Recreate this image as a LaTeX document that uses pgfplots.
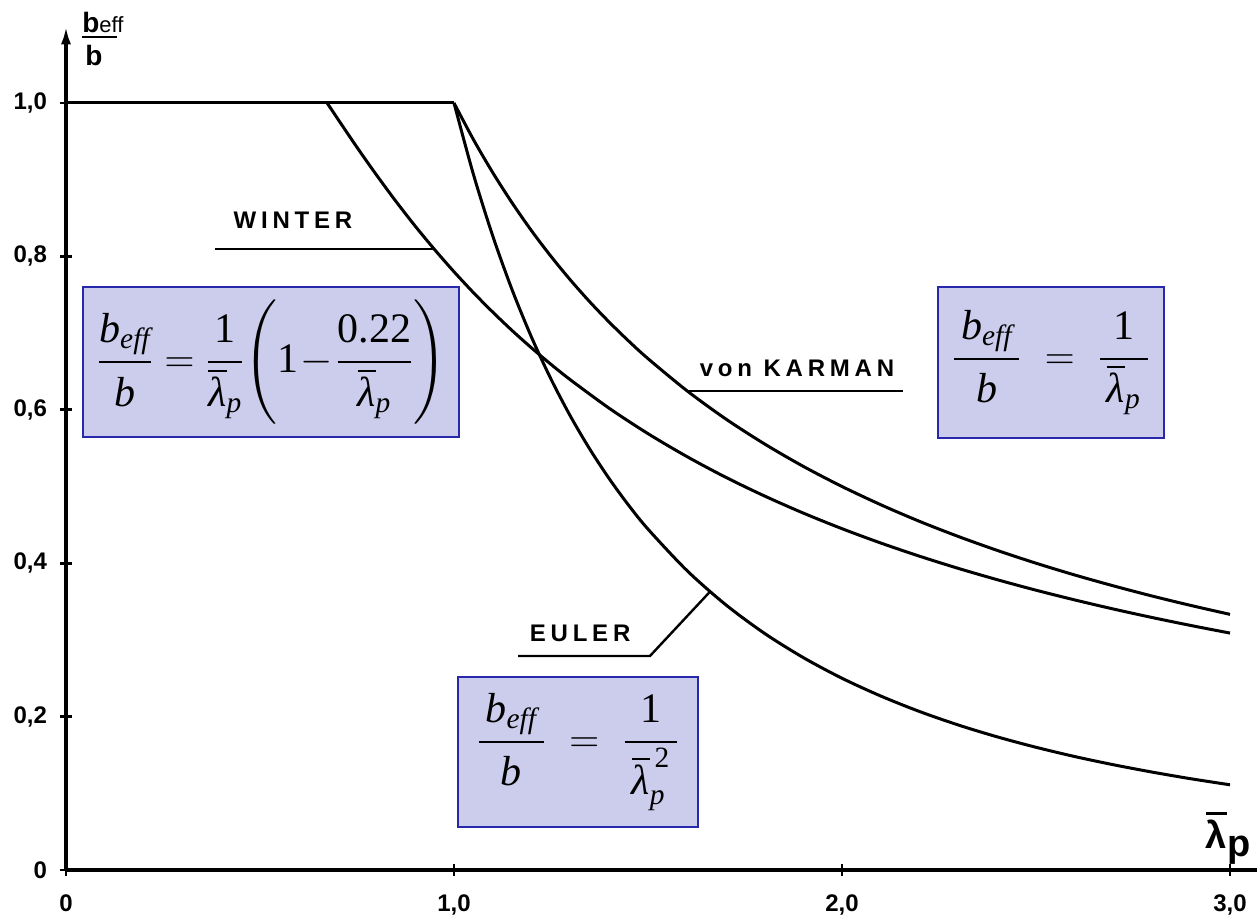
\documentclass[border=0pt]{standalone}
\usepackage{amsmath}
\usepackage{fontspec}
\setmainfont{Liberation Serif}
\newfontfamily\lab{Liberation Sans}
\usepackage{pgfplots}
\pgfplotsset{compat=1.18}
\usetikzlibrary{arrows.meta}

\definecolor{boxfill}{RGB}{204,204,236}
\definecolor{boxline}{RGB}{40,40,170}

% italic Times-like letters inside the formulas
\newcommand\I[1]{\textit{#1}}
\newcommand\lam{\overline{\I{λ}}_{\I{p}}}
\newcommand\lamsq{\overline{\I{λ}}_{\I{p}}^{\,\text{2}}}
% loosely set fractions, as in an equation editor
\newcommand\F[2]{\dfrac{\,#1\rule[-7pt]{0pt}{7pt}\,}{\,\rule{0pt}{19pt}#2\,}}
\newcommand\Ft[2]{\dfrac{#1\rule[-7pt]{0pt}{7pt}}{\rule{0pt}{19pt}#2}}
\newcommand\fsize{\fontsize{21}{24}\selectfont}
\newcommand\curvename[1]{{\lab\bfseries\fontsize{12}{12}\selectfont\addfontfeature{LetterSpace=20}#1}}

% slenderness curves b_eff/b over lambda_p
\pgfplotstableread{
x y
0 1.0
1.0 1.0
}\plateau

\pgfplotstableread{
x y
1.00 1.0000
1.05 0.9524
1.10 0.9091
1.15 0.8696
1.20 0.8333
1.25 0.8000
1.30 0.7692
1.35 0.7407
1.40 0.7143
1.45 0.6897
1.50 0.6667
1.60 0.6250
1.70 0.5882
1.80 0.5556
1.90 0.5263
2.00 0.5000
2.10 0.4762
2.20 0.4545
2.30 0.4348
2.40 0.4167
2.50 0.4000
2.60 0.3846
2.70 0.3704
2.80 0.3571
2.90 0.3448
3.00 0.3333
}\karman

\pgfplotstableread{
x y
1.00 1.0000
1.05 0.9070
1.10 0.8264
1.15 0.7561
1.20 0.6944
1.25 0.6400
1.30 0.5917
1.35 0.5487
1.40 0.5102
1.45 0.4756
1.50 0.4444
1.60 0.3906
1.70 0.3460
1.80 0.3086
1.90 0.2770
2.00 0.2500
2.10 0.2268
2.20 0.2066
2.30 0.1890
2.40 0.1736
2.50 0.1600
2.60 0.1479
2.70 0.1372
2.80 0.1276
2.90 0.1189
3.00 0.1111
}\euler

\pgfplotstableread{
x y
0.673 1.0000
0.70 0.9796
0.75 0.9422
0.80 0.9063
0.85 0.8720
0.90 0.8395
0.95 0.8089
1.00 0.7800
1.05 0.7528
1.10 0.7273
1.15 0.7032
1.20 0.6806
1.25 0.6592
1.30 0.6391
1.40 0.6020
1.50 0.5689
1.60 0.5391
1.70 0.5121
1.80 0.4877
1.90 0.4654
2.00 0.4450
2.10 0.4263
2.20 0.4091
2.30 0.3932
2.40 0.3785
2.50 0.3648
2.60 0.3521
2.70 0.3402
2.80 0.3291
2.90 0.3187
3.00 0.3089
}\winter

\begin{document}
\begin{tikzpicture}
\useasboundingbox (-33pt,-26pt) rectangle (595.5pt,435pt);
\begin{axis}[
  at={(0,0)}, anchor=origin,
  x=194pt, y=383.5pt,
  xmin=0, xmax=3.07, ymin=0, ymax=1.10,
  axis lines=left,
  axis line style={line width=1.7pt},
  x axis line style={-},
  y axis line style={-{Latex[length=9pt,width=5pt]}},
  xtick={0,1,2,3},
  xticklabels={0,{1,0},{2,0},{3,0}},
  ytick={0,0.2,0.4,0.6,0.8,1.0},
  yticklabels={0,{0,2},{0,4},{0,6},{0,8},{1,0}},
  tick align=center,
  major tick length=6pt,
  tick style={line width=1.4pt, black},
  ticklabel style={font=\lab\bfseries\fontsize{12}{12}\selectfont},
  xticklabel style={yshift=-6pt},
  yticklabel style={xshift=-3pt},
  clip=false,
]
  \addplot[line width=1.5pt, black] table {\plateau};
  \addplot[line width=1.5pt, black, smooth] table {\karman};
  \addplot[line width=1.5pt, black, smooth] table {\euler};
  \addplot[line width=1.5pt, black, smooth] table {\winter};

  % leader lines and curve names
  \draw[line width=1.2pt] (0.384,0.810) -- (0.948,0.810);
  \node at (0.585,0.847) {\curvename{WINTER}};
  \draw[line width=1.2pt] (1.601,0.6245) -- (2.157,0.6245);
  \node at (1.884,0.654) {\curvename{von KARMAN}};
  \draw[line width=1.2pt] (1.165,0.279) -- (1.505,0.279) -- (1.66,0.363);
  \node at (1.325,0.309) {\curvename{EULER}};

  % formula boxes
  \draw[boxline, fill=boxfill, line width=1pt] (0.0438,0.5645) rectangle (1.013,0.760);
  \node[inner sep=0pt] at (0.530,0.662) {\fsize$\Ft{\I{b}_{\I{eff}}}{\I{b}}=\Ft{\text{1}}{\lam}\mkern-3mu\left(\text{1}\mkern1mu{-}\mkern1mu\Ft{\text{0.22}}{\lam}\right)$};
  \draw[boxline, fill=boxfill, line width=1pt] (2.247,0.5632) rectangle (2.830,0.760);
  \node[inner sep=0pt] at (2.5385,0.6616) {\fsize$\F{\I{b}_{\I{eff}}}{\I{b}}\;=\;\F{\text{1}}{\lam}$};
  \draw[boxline, fill=boxfill, line width=1pt] (1.010,0.0561) rectangle (1.629,0.2516);
  \node[inner sep=0pt] at (1.3195,0.1539) {\fsize$\F{\I{b}_{\I{eff}}}{\I{b}}\;=\;\F{\text{1}}{\lamsq}$};

  % axis titles
  \node[anchor=base west, inner sep=0pt] at (0.0412,1.0913)
    {\lab\bfseries\fontsize{14}{14}\selectfont b\mdseries\fontsize{11}{11}\selectfont eff};
  \draw[line width=1.4pt] (0.0412,1.0860) -- (0.1314,1.0860);
  \node[anchor=base west, inner sep=0pt] at (0.049,1.0495)
    {\lab\bfseries\fontsize{14}{14}\selectfont b};
  \node[inner sep=0pt] at (2.995,0.0417) {\lab\bfseries\fontsize{19}{19}\selectfont
    \setbox0\hbox{λ}\rlap{\rule[\dimexpr\ht0+2.5pt\relax]{\wd0}{1.4pt}}\box0\raisebox{-4pt}{p}};
\end{axis}
\end{tikzpicture}
\end{document}
